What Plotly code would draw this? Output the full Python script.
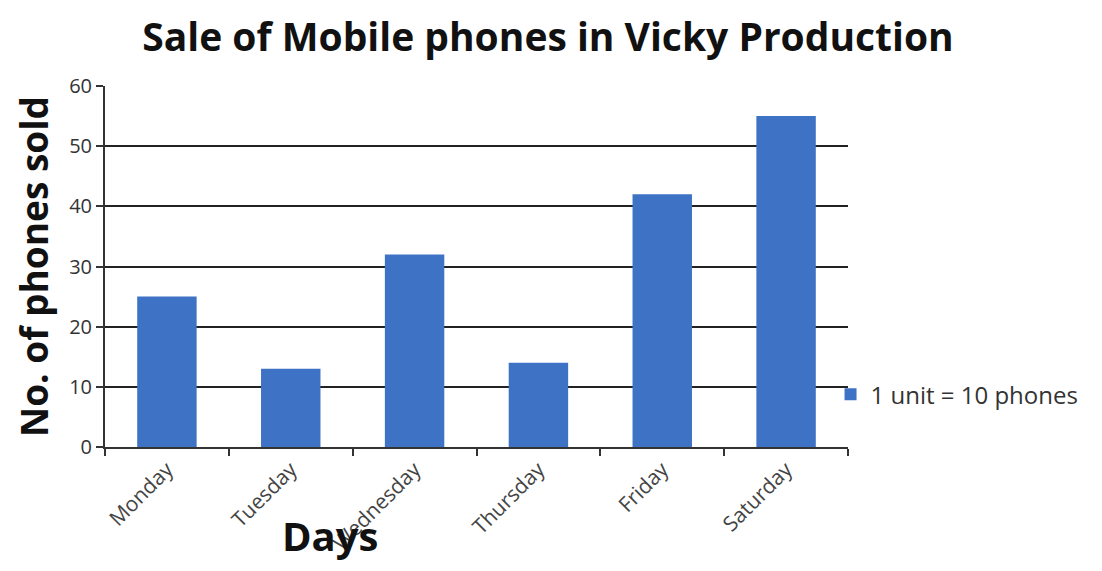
import plotly.graph_objects as go

days = ["Monday", "Tuesday", "Wednesday", "Thursday", "Friday", "Saturday"]
units_sold = [25, 13, 32, 14, 42, 55]
series_name = "1 unit = 10 phones"
y_ticks = [0, 10, 20, 30, 40, 50, 60]

fig = go.Figure()
fig.add_trace(go.Bar(
    x=days, y=units_sold, name=series_name,
    marker=dict(color="#3D72C4", line=dict(width=0)),
    showlegend=True,
))

fig.update_layout(
    width=1094, height=563,
    paper_bgcolor="white", plot_bgcolor="white",
    margin=dict(l=97, r=254, t=78, b=124, autoexpand=False),
    bargap=0.52,
    title=dict(text="<b>Sale of Mobile phones in Vicky Production</b>",
               x=0.4936, xanchor="center", y=0.948, yanchor="middle",
               font=dict(family="Open Sans", size=39, color="#111")),
    font=dict(family="Open Sans", color="#333"),
    legend=dict(x=0.9765, y=0.145, xanchor="left", yanchor="middle",
                font=dict(size=24, color="#333"), itemwidth=30,
                bgcolor="rgba(0,0,0,0)"),
    xaxis=dict(
        automargin=False,
        showline=True, linecolor="#333", linewidth=2,
        ticks="outside", tickson="boundaries", ticklen=7, tickcolor="#333", tickwidth=2,
        tickangle=-45, tickfont=dict(size=21, color="#444"),
        showgrid=False,
    ),
    yaxis=dict(
        automargin=False,
        range=[0, 60], tickvals=y_ticks,
        showline=True, linecolor="#333", linewidth=2,
        ticks="outside", ticklen=7, tickcolor="#333", tickwidth=2,
        tickfont=dict(size=20, color="#333"),
        showgrid=True, gridcolor="#222", gridwidth=2,
        zeroline=False,
        title=dict(text="<b>No. of phones sold</b>", standoff=22,
                   font=dict(size=37, color="#111")),
    ),
    annotations=[dict(
        text="<b>Days</b>", xref="paper", yref="paper",
        x=(330 - 105) / 743, y=-(535 - 447) / 361,
        xanchor="center", yanchor="middle", showarrow=False,
        font=dict(family="Open Sans", size=40, color="#111"),
    )],
)

fig.write_html("out.html")
